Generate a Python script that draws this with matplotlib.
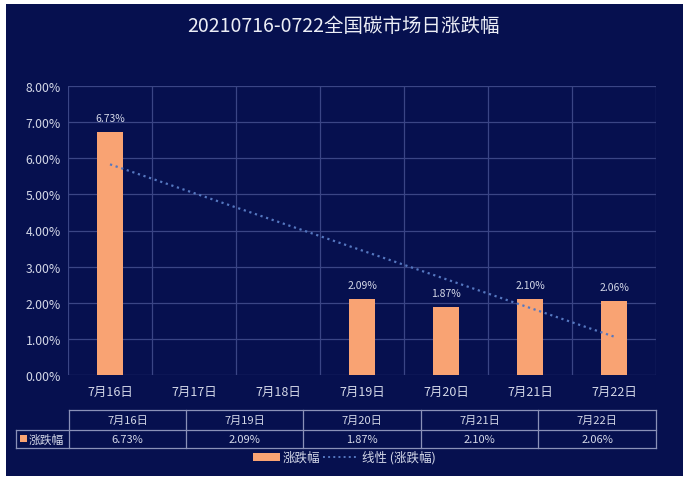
import numpy as np
from matplotlib import pyplot as plt
from matplotlib.patches import Rectangle
from matplotlib.lines import Line2D

plt.rcParams['font.family'] = ['Noto Sans CJK SC', 'DejaVu Sans']

# data
dates = ['7月16日', '7月17日', '7月18日', '7月19日', '7月20日', '7月21日', '7月22日']
change = [6.73, np.nan, np.nan, 2.09, 1.87, 2.10, 2.06]  # %
title = '20210716-0722全国碳市场日涨跌幅'
yticks = [0, 1, 2, 3, 4, 5, 6, 7, 8]

bg = '#06104f'
grid = '#3a4585'
bar_col = '#f9a373'
trend_col = '#5577c0'
txt = '#d4d8e8'
W, H = 687, 481


def fx(px):
    return px / W


def fy(py):
    return 1 - py / H


fig = plt.figure(figsize=(6.87, 4.81), dpi=100, facecolor='white')
# dark panel (the picture has a thin white edge)
fig.add_artist(Rectangle((fx(6), fy(477)), fx(683) - fx(6), fy(5) - fy(477),
                         transform=fig.transFigure, facecolor=bg, edgecolor='none', zorder=0))

ax = fig.add_axes([fx(68), fy(376), fx(656) - fx(68), fy(87) - fy(376)])
ax.set_facecolor(bg)

x = np.arange(len(dates))
vals = np.array(change)
ax.bar(x, vals, width=0.32, color=bar_col, zorder=3)
for xi, v in zip(x, vals):
    if not np.isnan(v):
        ax.text(xi, v + 0.25, '%.2f%%' % v, ha='center', va='bottom', color=txt, fontsize=7.5)

# linear trendline on the non-empty points
ok = ~np.isnan(vals)
k, b = np.polyfit(x[ok], vals[ok], 1)
ax.plot(x, k * x + b, color=trend_col, linestyle=':', linewidth=1.6, zorder=4)

ax.set_xlim(-0.5, len(dates) - 0.5)
ax.set_ylim(0, 8)
ax.set_yticks(yticks)
ax.set_yticklabels(['%.2f%%' % t for t in yticks], color=txt, fontsize=8.8)
ax.set_xticks(x)
ax.set_xticklabels(dates, color=txt, fontsize=9)
ax.tick_params(length=0, pad=5)
ax.tick_params(axis='x', pad=7)
for t in yticks:
    ax.axhline(t, color=grid, linewidth=0.9, zorder=1)
for xv in np.arange(-0.5, len(dates), 1):
    ax.axvline(xv, color=grid, linewidth=0.9, zorder=1)
for s in ax.spines.values():
    s.set_visible(False)

fig.text(0.5, fy(27), title, ha='center', va='center', color='#eceef6', fontsize=14)

# data table under the axis
tcol = '#8a91b8'
cols = [69, 186, 303, 421, 538, 656]
rows = [411, 431, 449]


def hline(x0, x1, y):
    fig.add_artist(Line2D([fx(x0), fx(x1)], [fy(y), fy(y)], color=tcol, linewidth=0.9))


def vline(xp, y0, y1):
    fig.add_artist(Line2D([fx(xp), fx(xp)], [fy(y0), fy(y1)], color=tcol, linewidth=0.9))


hline(cols[0], cols[-1], rows[0])
hline(16, cols[-1], rows[1])
hline(16, cols[-1], rows[2])
for c in cols:
    vline(c, rows[0], rows[2])
vline(16, rows[1], rows[2])

shown = [i for i in range(len(dates)) if ok[i]]
for j, i in enumerate(shown):
    cx = (cols[j] + cols[j + 1]) / 2
    fig.text(fx(cx), fy((rows[0] + rows[1]) / 2), dates[i], ha='center', va='center',
             color=txt, fontsize=8)
    fig.text(fx(cx), fy((rows[1] + rows[2]) / 2), '%.2f%%' % vals[i], ha='center',
             va='center', color=txt, fontsize=8)
fig.add_artist(Rectangle((fx(20), fy(443)), fx(27) - fx(20), fy(436) - fy(443),
                         transform=fig.transFigure, facecolor=bar_col, edgecolor='none'))
fig.text(fx(29), fy(440), '涨跌幅', ha='left', va='center', color=txt, fontsize=8.5)

# legend, laid out by hand
ly = 458
fig.add_artist(Rectangle((fx(253), fy(462)), fx(280) - fx(253), fy(454) - fy(462),
                         transform=fig.transFigure, facecolor=bar_col, edgecolor='none'))
fig.text(fx(283), fy(ly), '涨跌幅', ha='left', va='center', color=txt, fontsize=9)
fig.add_artist(Line2D([fx(323), fx(358)], [fy(ly), fy(ly)], color=trend_col,
                      linestyle=':', linewidth=1.4))
fig.text(fx(362), fy(ly), '线性 (涨跌幅)', ha='left', va='center', color=txt, fontsize=9)

plt.savefig('out.png', dpi=100, facecolor='white')
